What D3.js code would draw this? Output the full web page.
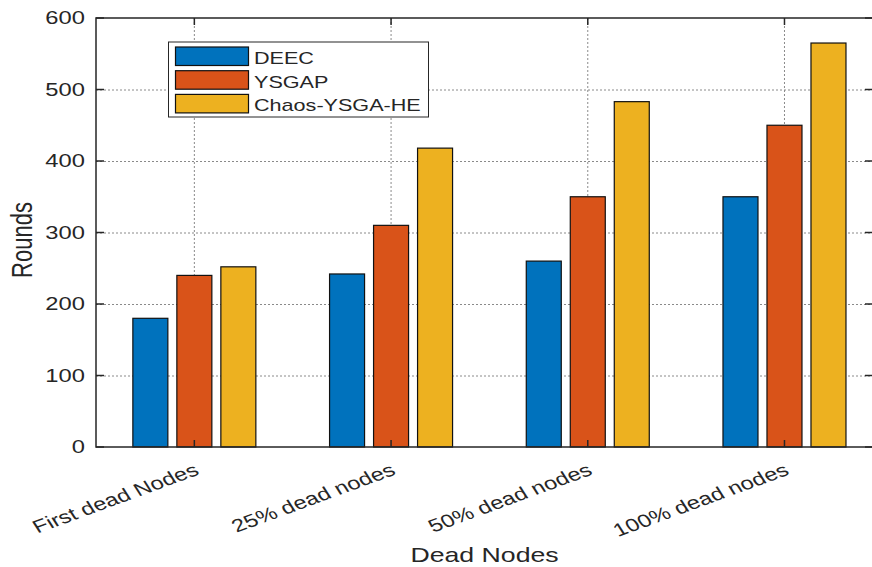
<!DOCTYPE html>
<html><head><meta charset="utf-8">
<script src="https://cdn.jsdelivr.net/npm/d3@7"></script>
<style>body{margin:0;background:#fff}svg{display:block}text{font-family:"Liberation Sans",Arial,sans-serif;fill:#262626}</style>
</head><body>
<svg id="c" width="872" height="567"></svg>
<script>
const categories = ["First dead Nodes","25% dead nodes","50% dead nodes","100% dead nodes"];
const seriesNames = ["DEEC","YSGAP","Chaos-YSGA-HE"];
const deec = [180, 242, 260, 350];
const ysgap = [240, 310, 350, 450];
const chaos = [252, 418, 483, 565];
const yTicks = [0,100,200,300,400,500,600];
const colors = ["#0072BD","#D95319","#EDB120"];
const seriesVals = [deec, ysgap, chaos];

const SX = 1.32; // horizontal stretch of the reference rendering
const svg = d3.select("#c");
const L=96, R=873, T=18, B=447;
const x = d3.scaleLinear().domain([0.5,4.45]).range([L,R]);
const y = d3.scaleLinear().domain([0,600]).range([B,T]);
const step = 44, bw = 35;

const g = svg.append("g");
// grid
g.selectAll(".hg").data(yTicks.slice(1,-1)).join("line")
 .attr("x1",L).attr("x2",R).attr("y1",d=>y(d)+0.5).attr("y2",d=>y(d)+0.5)
 .attr("stroke","#8a8a8a").attr("stroke-width",1).attr("stroke-dasharray","2,2");
g.selectAll(".vg").data(categories).join("line")
 .attr("x1",(d,i)=>x(i+1)).attr("x2",(d,i)=>x(i+1)).attr("y1",T).attr("y2",B)
 .attr("stroke","#8a8a8a").attr("stroke-width",1).attr("stroke-dasharray","2,2");

// bars
seriesVals.forEach((vals,s)=>{
  g.selectAll(".b"+s).data(vals).join("rect")
   .attr("x",(d,i)=>x(i+1)+(s-1)*step-bw/2)
   .attr("width",bw)
   .attr("y",d=>y(d)).attr("height",d=>B-y(d))
   .attr("fill",colors[s]).attr("stroke","#111").attr("stroke-width",1.2);
});

// axes box
const ax = svg.append("g");
ax.append("rect").attr("x",L).attr("y",T).attr("width",R-L).attr("height",B-T)
 .attr("fill","none").attr("stroke","#262626").attr("stroke-width",1.5);
yTicks.forEach(t=>{
  ax.append("line").attr("x1",L).attr("x2",L+8).attr("y1",y(t)).attr("y2",y(t)).attr("stroke","#262626").attr("stroke-width",1.5);
  ax.append("line").attr("x1",R-8).attr("x2",R).attr("y1",y(t)).attr("y2",y(t)).attr("stroke","#262626").attr("stroke-width",1.5);
});
categories.forEach((c,i)=>{
  ax.append("line").attr("x1",x(i+1)).attr("x2",x(i+1)).attr("y1",B).attr("y2",B-7).attr("stroke","#262626").attr("stroke-width",1.5);
  ax.append("line").attr("x1",x(i+1)).attr("x2",x(i+1)).attr("y1",T).attr("y2",T+7).attr("stroke","#262626").attr("stroke-width",1.5);
});
// y tick labels
svg.append("g").selectAll("text").data(yTicks).join("text")
 .attr("transform",d=>`translate(${L-11},${y(d)}) scale(${SX},1)`)
 .attr("text-anchor","end").attr("dy","0.36em").style("font-size","18px").text(d=>d);
// x tick labels
svg.append("g").selectAll("text").data(categories).join("text")
 .attr("transform",(d,i)=>`translate(${x(i+1)+6},${B+27}) scale(${SX},1) rotate(-25.8)`)
 .attr("text-anchor","end").style("font-size","18px").text(d=>d);

// axis titles
svg.append("text").attr("transform",`translate(${(L+R)/2},562) scale(1.27,1)`).attr("text-anchor","middle").style("font-size","21px").text("Dead Nodes");
svg.append("text").attr("transform",`translate(32,240) scale(${SX},1) rotate(-90)`).attr("text-anchor","middle").style("font-size","22px").text("Rounds");

// legend
const lg = svg.append("g");
lg.append("rect").attr("x",168.5).attr("y",42).attr("width",260).attr("height",75)
 .attr("fill","#fff").attr("stroke","#262626").attr("stroke-width",1);
seriesNames.forEach((n,i)=>{
  const yy = 47 + i*23.7;
  lg.append("rect").attr("x",175.5).attr("y",yy).attr("width",73).attr("height",18.5)
   .attr("fill",colors[i]).attr("stroke","#111").attr("stroke-width",1.2);
  lg.append("text").attr("transform",`translate(254,${yy+17}) scale(1.27,1)`).style("font-size","17px").text(n);
});
</script>
</body></html>
